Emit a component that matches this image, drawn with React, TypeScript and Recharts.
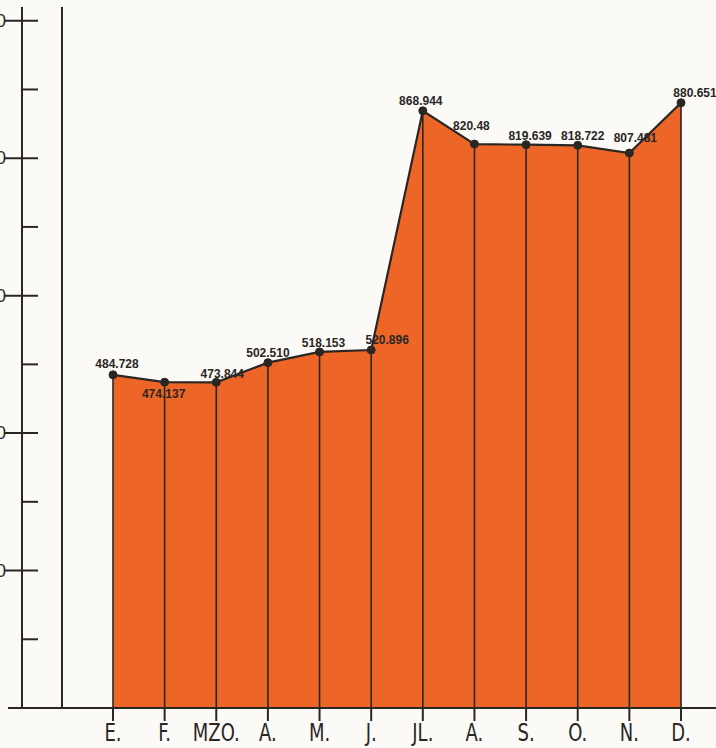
import { AreaChart, Area, XAxis, YAxis, ReferenceLine, LabelList } from "recharts";

const months = ["E.", "F.", "MZO.", "A.", "M.", "J.", "JL.", "A.", "S.", "O.", "N.", "D."];
const values = [484.728, 474.137, 473.844, 502.51, 518.153, 520.896, 868.944, 820.48, 819.639, 818.722, 807.481, 880.651];
const valueLabels = ["484.728", "474.137", "473.844", "502.510", "518.153", "520.896", "868.944", "820.48", "819.639", "818.722", "807.481", "880.651"];
const yTicks = [0, 100, 200, 300, 400, 500, 600, 700, 800, 900, 1000];
const majorTicks = [200, 400, 600, 800, 1000];

// hand-placed label nudges, like the drawing
const labelShift = [
  [4, -10], [-1, 13], [6, -8], [0, -9], [4, -8], [16, -9],
  [-2, -9], [-3, -17], [4, -8], [5, -9], [6, -14], [14, -9],
];

const ink = "#2a2624";
const orange = "#ee6627";
const paper = "#fbfaf7";
const innerAxisWidth = 40;

const data = values.map((v, i) => ({ i, v }));

const YTick = (props: any) => {
  const { x, y, payload } = props;
  const v = payload.value;
  if (v === 0) {
    return <line x1={x - 14} x2={x + innerAxisWidth} y1={y} y2={y} stroke={ink} strokeWidth={2} />;
  }
  const major = majorTicks.includes(v);
  return (
    <g>
      <line x1={major ? x - 17 : x} x2={x + 16} y1={y} y2={y} stroke={ink} strokeWidth={2} />
      {major && (
        <text x={x - 16} y={y} dy="0.35em" textAnchor="end" fontSize={18} fill={ink} fontFamily="Liberation Sans, sans-serif">
          {v}
        </text>
      )}
    </g>
  );
};

const XTick = (props: any) => {
  const { x, y, payload } = props;
  return (
    <text
      transform={`translate(${x},${y + 18}) scale(1,1.25)`}
      textAnchor="middle"
      fontSize={20}
      fill={ink}
      fontFamily="Liberation Sans Narrow, DejaVu Sans Condensed, Liberation Sans, sans-serif"
    >
      {months[payload.value]}
    </text>
  );
};

const ValueLabel = (props: any) => {
  const { x, y, index } = props;
  const [dx, dy] = labelShift[index] || [0, -10];
  return (
    <text
      x={x + dx}
      y={y + dy}
      dominantBaseline="middle"
      textAnchor="middle"
      fontSize={12}
      fontWeight="bold"
      fill={ink}
      fontFamily="Liberation Sans, sans-serif"
    >
      {valueLabels[index]}
    </text>
  );
};

export default function App() {
  return (
    <div style={{ position: "absolute", left: 0, top: 0, width: 716, height: 748, background: paper }}>
      <AreaChart width={716} height={748} data={data} margin={{ top: 7, right: 0, left: 0, bottom: 0 }}>
        <XAxis
          dataKey="i"
          type="category"
          padding={{ left: 51, right: 35 }}
          height={40}
          interval={0}
          axisLine={{ stroke: ink, strokeWidth: 2 }}
          tickLine={{ stroke: ink, strokeWidth: 2 }}
          tickSize={13}
          tick={<XTick />}
        />
        {/* "a" sits next to the plot, "b" (with the ticks) outside it */}
        <YAxis
          yAxisId="a"
          domain={[0, 1020]}
          width={innerAxisWidth}
          tick={false}
          tickLine={false}
          axisLine={{ stroke: ink, strokeWidth: 2 }}
        />
        <YAxis
          yAxisId="b"
          domain={[0, 1020]}
          ticks={yTicks}
          interval={0}
          width={22}
          tickSize={0}
          tickMargin={0}
          tickLine={false}
          axisLine={{ stroke: ink, strokeWidth: 2 }}
          tick={<YTick />}
        />
        <Area
          yAxisId="b"
          type="linear"
          dataKey="v"
          fill={orange}
          fillOpacity={1}
          stroke={ink}
          strokeWidth={2.2}
          dot={{ r: 4, fill: ink, stroke: ink, strokeWidth: 1 }}
          activeDot={false}
          isAnimationActive={false}
        >
          <LabelList dataKey="v" content={<ValueLabel />} />
        </Area>
        {data.map((d) => (
          <ReferenceLine
            key={d.i}
            yAxisId="b"
            segment={[{ x: d.i, y: 0 }, { x: d.i, y: d.v }]}
            stroke={ink}
            strokeWidth={1.6}
          />
        ))}
      </AreaChart>
    </div>
  );
}
